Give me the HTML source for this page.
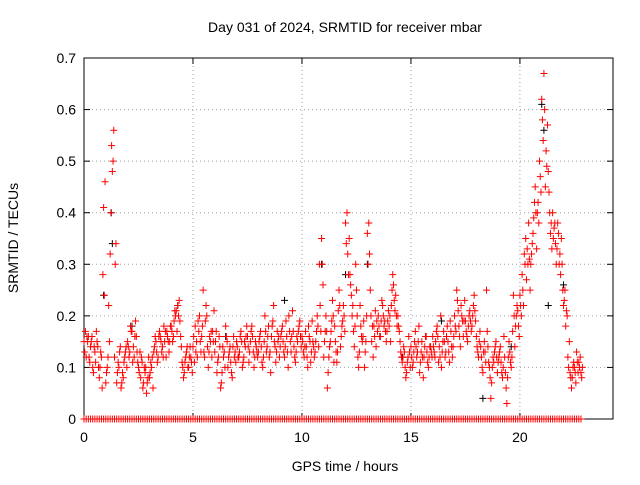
<!DOCTYPE html>
<html><head><meta charset="utf-8">
<style>
body{margin:0;background:#fff;}
svg text{font-family:"Liberation Sans",sans-serif;font-size:14px;fill:#000;}
</style></head>
<body>
<svg id="chart" width="640" height="480" viewBox="0 0 640 480" xmlns="http://www.w3.org/2000/svg">
<rect width="640" height="480" fill="#fff"/>
<g id="grid"></g>
<g id="axes"></g>
<g id="black"></g>
<g id="red"></g>
<text x="345" y="32" text-anchor="middle">Day 031 of 2024, SRMTID for receiver mbar</text>
<text x="345" y="471" text-anchor="middle">GPS time / hours</text>
<text transform="translate(18,238) rotate(-90)" text-anchor="middle">SRMTID / TECUs</text>
</svg>
<script>
const xTicks=[0,5,10,15,20];
const yTicks=[0,0.1,0.2,0.3,0.4,0.5,0.6,0.7];
const yTickLabels=["0","0.1","0.2","0.3","0.4","0.5","0.6","0.7"];
const times=[0,0.1,0.2,0.3,0.4,0.5,0.6,0.7,0.8,0.9,1,1.1,1.2,1.3,1.4,1.5,1.6,1.7,1.8,1.9,2,2.1,2.2,2.3,2.4,2.5,2.6,2.7,2.8,2.9,3,3.1,3.2,3.3,3.4,3.5,3.6,3.7,3.8,3.9,4,4.1,4.2,4.3,4.4,4.5,4.6,4.7,4.8,4.9,5,5.1,5.2,5.3,5.4,5.5,5.6,5.7,5.8,5.9,6,6.1,6.2,6.3,6.4,6.5,6.6,6.7,6.8,6.9,7,7.1,7.2,7.3,7.4,7.5,7.6,7.7,7.8,7.9,8,8.1,8.2,8.3,8.4,8.5,8.6,8.7,8.8,8.9,9,9.1,9.2,9.3,9.4,9.5,9.6,9.7,9.8,9.9,10,10.1,10.2,10.3,10.4,10.5,10.6,10.7,10.8,10.9,11,11.1,11.2,11.3,11.4,11.5,11.6,11.7,11.8,11.9,12,12.1,12.2,12.3,12.4,12.5,12.6,12.7,12.8,12.9,13,13.1,13.2,13.3,13.4,13.5,13.6,13.7,13.8,13.9,14,14.1,14.2,14.3,14.4,14.5,14.6,14.7,14.8,14.9,15,15.1,15.2,15.3,15.4,15.5,15.6,15.7,15.8,15.9,16,16.1,16.2,16.3,16.4,16.5,16.6,16.7,16.8,16.9,17,17.1,17.2,17.3,17.4,17.5,17.6,17.7,17.8,17.9,18,18.1,18.2,18.3,18.4,18.5,18.6,18.7,18.8,18.9,19,19.1,19.2,19.3,19.4,19.5,19.6,19.7,19.8,19.9,20,20.1,20.2,20.3,20.4,20.5,20.6,20.7,20.8,20.9,21,21.1,21.2,21.3,21.4,21.5,21.6,21.7,21.8,21.9,22,22.1,22.2,22.3,22.4,22.5,22.6,22.7,22.8];
const valsA=[.15,.12,.16,.14,.10,.13,.15,.08,.12,.41,
.07,.12,.32,.48,.12,.07,.10,.06,.08,.13,
.15,.13,.17,.12,.16,.10,.08,.06,.09,.07,
.08,.10,.13,.15,.12,.16,.14,.15,.17,.13,
.18,.16,.20,.22,.19,.11,.09,.13,.10,.12,
.14,.18,.12,.20,.16,.13,.22,.10,.15,.17,
.13,.09,.16,.07,.12,.18,.10,.14,.08,.12,
.15,.12,.17,.11,.14,.16,.13,.18,.10,.14,
.13,.17,.10,.20,.14,.12,.16,.22,.11,.15,
.14,.18,.12,.16,.20,.13,.17,.11,.15,.19,
.16,.12,.14,.18,.11,.15,.13,.20,.30,.35,
.12,.20,.09,.15,.23,.18,.11,.25,.16,.22,
.38,.32,.28,.20,.14,.25,.10,.18,.16,.13,
.36,.32,.15,.18,.14,.20,.16,.22,.19,.17,
.18,.22,.26,.24,.20,.15,.11,.13,.09,.16,
.14,.11,.17,.13,.09,.15,.12,.16,.10,.14,
.16,.12,.18,.14,.10,.17,.13,.15,.19,.12,
.20,.25,.18,.22,.16,.19,.15,.21,.18,.24,
.16,.12,.14,.09,.13,.17,.10,.07,.11,.15,
.11,.14,.08,.12,.03,.15,.10,.24,.18,.21,
.24,.28,.32,.27,.38,.30,.36,.45,.40,.50,
.62,.67,.52,.48,.36,.40,.38,.33,.30,.35,
.22,.18,.12,.09,.08,.10,.13,.11,.09];
const valsB=[.17,.15,.11,.16,.14,.17,.10,.13,.28,.46,
.10,.15,.53,.56,.34,.11,.14,.09,.12,.10,
.12,.17,.14,.19,.11,.13,.11,.10,.05,.12,
.11,.06,.16,.11,.17,.13,.18,.12,.15,.18,
.15,.21,.17,.23,.14,.08,.12,.10,.14,.09,
.11,.15,.17,.13,.25,.19,.14,.16,.12,.21,
.17,.12,.06,.14,.10,.15,.13,.09,.16,.11,
.12,.16,.10,.15,.18,.11,.17,.13,.15,.12,
.16,.11,.15,.13,.18,.09,.19,.14,.17,.12,
.17,.13,.19,.10,.15,.21,.12,.16,.18,.14,
.13,.17,.10,.15,.19,.12,.17,.14,.17,.26,
.17,.06,.14,.19,.11,.13,.21,.14,.19,.17,
.40,.35,.24,.17,.30,.12,.22,.15,.10,.20,
.38,.20,.12,.21,.17,.16,.23,.18,.15,.21,
.15,.28,.21,.18,.17,.12,.14,.08,.12,.10,
.10,.15,.12,.18,.13,.08,.16,.11,.14,.12,
.13,.17,.11,.20,.15,.12,.18,.11,.14,.16,
.17,.21,.14,.19,.23,.16,.20,.17,.22,.19,
.13,.17,.10,.15,.25,.11,.04,.12,.14,.09,
.13,.09,.16,.06,.12,.11,.17,.14,.22,.16,
.20,.22,.35,.30,.25,.34,.42,.33,.38,.44,
.54,.45,.57,.40,.33,.37,.30,.36,.28,.25,
.25,.20,.15,.06,.11,.07,.09,.12,.10];
const valsC=[.13,.16,.12,.15,.09,.11,.14,.10,.06,.24,
.09,.22,.40,.50,.30,.09,.13,.07,.11,.14,
.14,.18,.11,.16,.13,.09,.12,.07,.10,.08,
.09,.12,.14,.13,.16,.15,.12,.17,.16,.15,
.17,.19,.21,.20,.16,.10,.11,.14,.12,.11,
.16,.13,.19,.15,.18,.12,.20,.13,.17,.15,
.15,.11,.14,.09,.13,.16,.12,.11,.14,.13,
.14,.13,.15,.12,.16,.14,.15,.16,.12,.13,
.15,.14,.12,.17,.16,.13,.18,.15,.13,.16,
.16,.15,.14,.13,.17,.16,.14,.13,.17,.16,
.15,.14,.12,.16,.13,.14,.15,.18,.22,.30,
.15,.17,.12,.17,.20,.15,.13,.22,.18,.20,
.34,.28,.26,.22,.18,.20,.13,.16,.19,.15,
.30,.25,.18,.16,.19,.18,.19,.20,.17,.19,
.20,.25,.23,.20,.18,.13,.12,.10,.11,.13,
.12,.13,.14,.15,.11,.12,.14,.13,.12,.13,
.14,.15,.16,.12,.13,.15,.16,.13,.17,.14,
.18,.23,.16,.20,.19,.17,.18,.19,.20,.21,
.14,.15,.12,.13,.11,.14,.08,.10,.13,.12,
.12,.11,.10,.09,.08,.13,.12,.20,.20,.18,
.22,.25,.30,.33,.31,.32,.39,.40,.42,.47,
.58,.60,.49,.44,.38,.35,.34,.38,.32,.30,
.23,.21,.10,.08,.10,.09,.11,.10,.08];
const blackTimes=[1.25,1.3,0.9,10.9,21.0,21.1,12.0,18.3,21.3,22.0,13.0,4.3,2.2,6.5,9.2,14.6,16.4,19.6];
const blackVals=[.40,.34,.24,.30,.61,.56,.28,.04,.22,.26,.30,.22,.18,.16,.23,.12,.19,.14];
const zeroVals=[0];

const X0=84,X1=613,Y0=419,Y1=58,XMAX=24.27,YMAX=0.7;
const xs=t=>X0+(t/XMAX)*(X1-X0);
const ys=v=>Y0-(v/YMAX)*(Y0-Y1);
const NS="http://www.w3.org/2000/svg";
function mk(tag,parent,attrs){const e=document.createElementNS(NS,tag);for(const k in attrs)e.setAttribute(k,attrs[k]);parent.appendChild(e);return e;}
const grid=document.getElementById('grid'),axes=document.getElementById('axes');
xTicks.forEach(t=>{
  const x=xs(t);
  if(t>0){const g=mk('line',grid,{x1:x,y1:Y1,x2:x,y2:Y0,stroke:'#a0a0a0','stroke-dasharray':'1,3','stroke-width':1});
  
  }
  mk('line',axes,{x1:x,y1:Y0,x2:x,y2:Y0-6,stroke:'#000'});
  mk('line',axes,{x1:x,y1:Y1,x2:x,y2:Y1+6,stroke:'#000'});
  const l=mk('text',axes,{x:x,y:Y0+23,'text-anchor':'middle'});l.textContent=t;
  
  
});
yTicks.forEach((v,i)=>{
  const y=ys(v);
  if(v>0&&v<YMAX){const g=mk('line',grid,{x1:X0,y1:y,x2:X1,y2:y,stroke:'#a0a0a0','stroke-dasharray':'1,3','stroke-width':1});
  
  }
  mk('line',axes,{x1:X0,y1:y,x2:X0+6,y2:y,stroke:'#000'});
  mk('line',axes,{x1:X1,y1:y,x2:X1-6,y2:y,stroke:'#000'});
  const l=mk('text',axes,{x:X0-8,y:y+5,'text-anchor':'end'});l.textContent=yTickLabels[i];
  
  
});
const frame=mk('rect',axes,{x:X0,y:Y1,width:X1-X0,height:Y0-Y1,fill:'none',stroke:'#000'});


function plus(parent,t,v,color,name){
  const x=xs(t),y=ys(v);
  const p=mk('path',parent,{d:`M${x-3.5},${y}h7M${x},${y-3.5}v7`,stroke:color,'stroke-width':1,fill:'none'});
  
  
}
const bg=document.getElementById('black'),rg=document.getElementById('red');
blackTimes.forEach((t,i)=>plus(bg,t,blackVals[i],'#000','black-point'));
times.forEach((t,i)=>{
  plus(rg,t,zeroVals[0],'#ff0000','zero-point');
  plus(rg,t,valsA[i],'#ff0000','red-point');
  plus(rg,t+0.033,valsC[i],'#ff0000','red-point');
  plus(rg,t+0.066,valsB[i],'#ff0000','red-point');
});
</script>
</body></html>
